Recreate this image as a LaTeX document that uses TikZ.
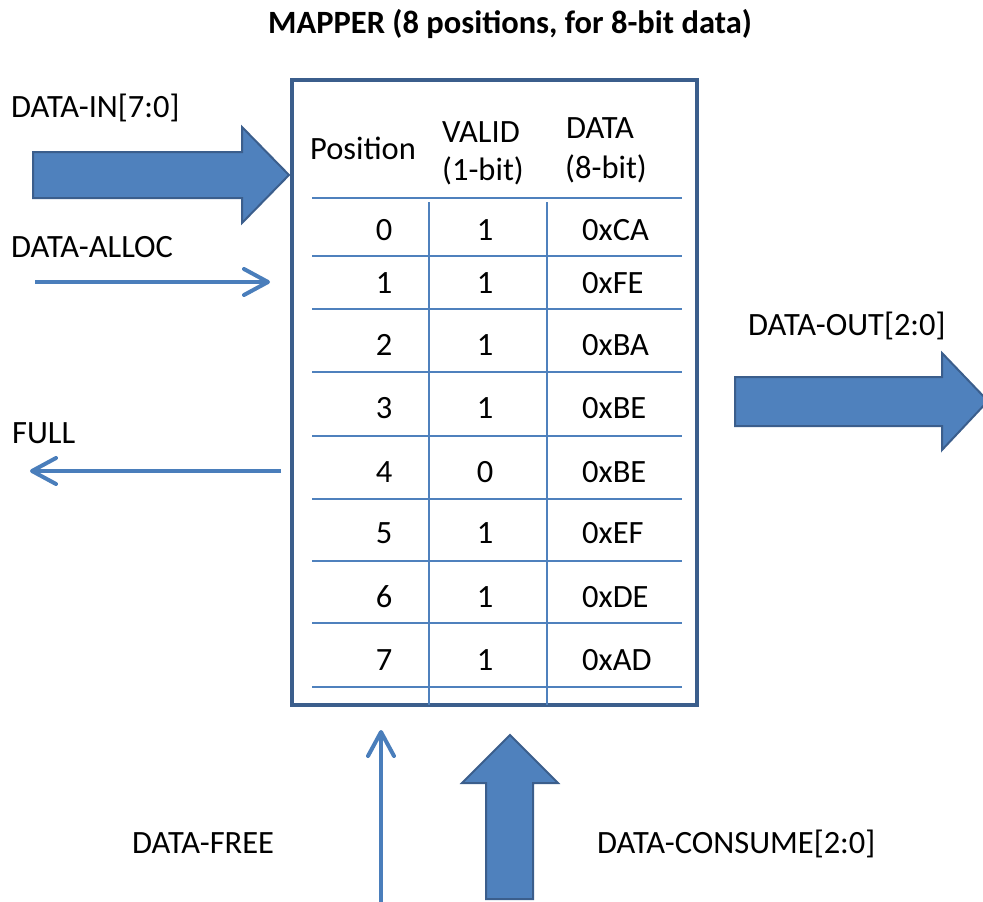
\documentclass[tikz,border=0pt]{standalone}
\usepackage{fontspec}
\setmainfont{Carlito}
\usetikzlibrary{arrows.meta}
\definecolor{arrowblue}{HTML}{4F81BD}
\definecolor{edgeblue}{HTML}{3B5E8C}
\definecolor{lineblue}{HTML}{4A7EBB}
\begin{document}
\begin{tikzpicture}[x=1pt, y=-1pt,
lbl/.style = {anchor=base west, inner sep=0pt, font=\fontsize{32.5}{38}\selectfont},
cell/.style = {anchor=base, inner sep=0pt, font=\fontsize{32.5}{38}\selectfont},
mapperbox/.style = {rectangle, draw=edgeblue, line width=4pt, outer sep=0pt, anchor=north west},
gridline/.style = {draw=arrowblue, line width=1.3pt},
sig/.style = {draw=lineblue, line width=4pt, -{Straight Barb[length=24pt, width=26pt, round]}},
fat/.style = {fill=arrowblue, draw=edgeblue, line width=2pt}]

  \useasboundingbox (0,0) rectangle (983,902);

  \node[anchor=base, inner sep=0pt, font=\fontsize{32.5}{38}\selectfont\bfseries] (title) at (510,33) {MAPPER (8 positions, for 8-bit data)};

  % mapper block and its table
  \node[mapperbox, minimum width=405pt, minimum height=625pt] (mapper) at (292,80) {};

  \foreach \ly in {198,256,309,372,436,499,561,623,687}
    \draw[gridline] (312,\ly) -- (682,\ly);
  \draw[gridline] (429,202) -- (429,705);
  \draw[gridline] (547,202) -- (547,705);

  \node[cell] (hpos) at (363,159) {Position};
  \node[cell] (hvalid) at (481,142) {VALID};
  \node[cell] (hvalidw) at (483,180) {(1-bit)};
  \node[cell] (hdata) at (600,138) {DATA};
  \node[cell] (hdataw) at (606,178) {(8-bit)};

  \foreach \p/\by/\v/\d in {0/240/1/CA, 1/293/1/FE, 2/355/1/BA, 3/418/1/BE,
                            4/482/0/BE, 5/543/1/EF, 6/607/1/DE, 7/670/1/AD} {
    \node[cell] (pos\p) at (384,\by) {\p};
    \node[cell] (valid\p) at (485,\by) {\v};
    \node[lbl] (data\p) at (582,\by) {0x\d};
  }

  % inputs on the left
  \node[lbl] (datain) at (11,117) {DATA-IN[7:0]};
  \filldraw[fat] (33,152) -- (242,152) -- (242,127) -- (289,175)
    -- (242,223) -- (242,198) -- (33,198) -- cycle;

  \node[lbl] (alloc) at (11,257) {DATA-ALLOC};
  \coordinate (allocs) at (35,282);
  \coordinate (alloce) at (270,282);
  \draw[sig] (allocs) -- (alloce);

  \node[lbl] (full) at (12,443) {FULL};
  \coordinate (fulls) at (281,471);
  \coordinate (fulle) at (30,471);
  \draw[sig] (fulls) -- (fulle);

  % output on the right
  \node[lbl] (dataout) at (748,335) {DATA-OUT[2:0]};
  \filldraw[fat] (735,377) -- (942,377) -- (942,353) -- (988,401)
    -- (942,450) -- (942,426) -- (735,426) -- cycle;

  % inputs from below
  \node[lbl] (free) at (132,853) {DATA-FREE};
  \coordinate (frees) at (381,905);
  \coordinate (freee) at (381,730);
  \draw[sig] (frees) -- (freee);

  \node[lbl] (consume) at (597,853) {DATA-CONSUME[2:0]};
  \filldraw[fat] (486,899) -- (486,783) -- (462,783) -- (510,735)
    -- (558,783) -- (533,783) -- (533,899) -- cycle;

\end{tikzpicture}
\end{document}
